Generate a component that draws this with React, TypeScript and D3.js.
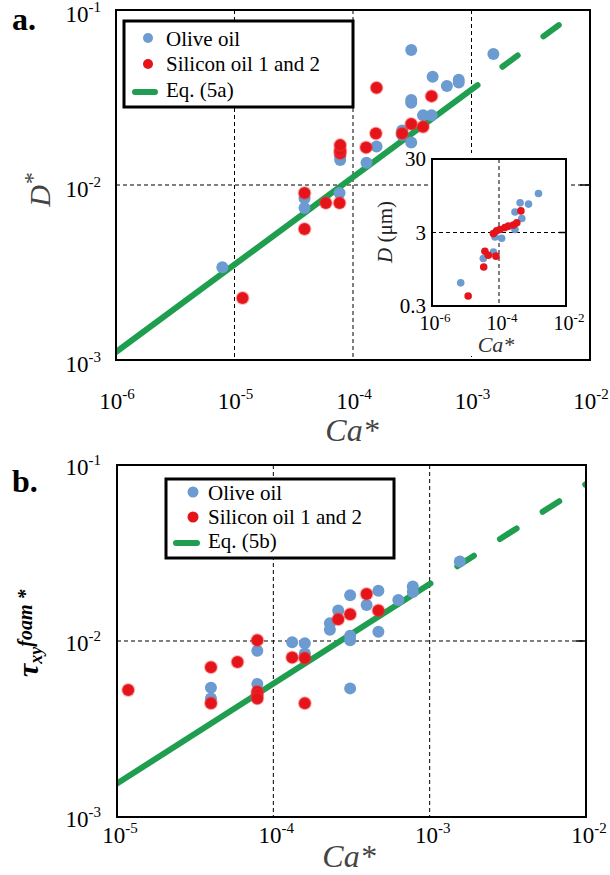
import React from "react";
import * as d3 from "d3";

// ---------- Panel a data (Ca*, D*) ----------
const oliveA_ca = [7.9e-6, 3.9e-5, 3.9e-5, 7.7e-5, 7.8e-5, 7.8e-5, 1.3e-4, 1.58e-4, 2.6e-4, 2.6e-4, 3.1e-4, 3.1e-4, 3.1e-4, 3.1e-4, 3.9e-4, 4.6e-4, 4.7e-4, 6.2e-4, 7.8e-4, 7.8e-4, 1.53e-3];
const oliveA_d = [0.00339, 0.0074, 0.0084, 0.009, 0.0139, 0.0145, 0.0134, 0.0166, 0.0205, 0.0193, 0.0175, 0.0295, 0.0306, 0.059, 0.025, 0.025, 0.0416, 0.0368, 0.040, 0.0385, 0.056];
const siliconA_ca = [1.17e-5, 3.9e-5, 3.9e-5, 5.9e-5, 7.7e-5, 7.8e-5, 7.8e-5, 7.8e-5, 1.29e-4, 1.56e-4, 1.58e-4, 2.6e-4, 3.1e-4, 3.9e-4, 4.6e-4];
const siliconA_d = [0.00226, 0.0056, 0.009, 0.0079, 0.0079, 0.0152, 0.0158, 0.0169, 0.0164, 0.0197, 0.0359, 0.0197, 0.0223, 0.0215, 0.0322];

// ---------- Inset data (Ca*, D in µm) ----------
const oliveI_ca = [1.51e-3, 4.27e-4, 7.6e-4, 3.0e-4, 4.8e-4, 3.0e-4, 1.2e-4, 7.6e-5, 6.8e-5, 3.4e-5, 7.2e-6];
const oliveI_d = [10.2, 7.6, 7.3, 5.7, 4.66, 3.3, 2.5, 2.6, 1.63, 1.33, 0.62];
const siliconI_ca = [4.5e-4, 3.4e-4, 2.7e-4, 1.9e-4, 1.5e-4, 1.07e-4, 8.5e-5, 6.8e-5, 3.8e-5, 4.8e-5, 8.1e-5, 3.5e-5, 1.2e-5];
const siliconI_d = [5.9, 4.06, 3.78, 3.66, 3.5, 3.3, 3.16, 2.9, 1.67, 1.47, 1.43, 1.02, 0.41];

// ---------- Panel b data (Ca*, tau_xy foam*) ----------
const oliveB_ca = [3.99e-5, 3.99e-5, 7.9e-5, 7.9e-5, 1.32e-4, 1.59e-4, 1.59e-4, 2.3e-4, 2.3e-4, 2.6e-4, 3.1e-4, 3.1e-4, 3.1e-4, 3.1e-4, 3.95e-4, 4.7e-4, 4.7e-4, 6.3e-4, 7.8e-4, 7.8e-4, 1.56e-3];
const oliveB_t = [0.00543, 0.00472, 0.0088, 0.0057, 0.00984, 0.0097, 0.0085, 0.0126, 0.0116, 0.0149, 0.0182, 0.0107, 0.0101, 0.00538, 0.016, 0.0193, 0.0113, 0.0171, 0.0204, 0.019, 0.0283];
const siliconB_ca = [1.18e-5, 3.99e-5, 3.99e-5, 5.9e-5, 7.9e-5, 7.9e-5, 7.9e-5, 7.9e-5, 1.32e-4, 1.59e-4, 1.59e-4, 2.6e-4, 3.1e-4, 3.95e-4, 4.7e-4];
const siliconB_t = [0.00527, 0.0071, 0.00443, 0.0076, 0.0101, 0.00515, 0.00493, 0.00472, 0.00807, 0.008, 0.00443, 0.0133, 0.0142, 0.0185, 0.0149];

// ---------- Fitted equations ----------
const eqA = { ref: 1e-6, coef: 1.11e-3, exp: 0.5 };
const eqA_solid = [1e-6, 10 ** -2.949];
const eqA_dashed = [10 ** -2.739, 1e-2];
const eqB = { ref: 1e-5, coef: 1.55e-3, exp: 0.567 };
const eqB_solid = [1e-5, 10 ** -2.995];
const eqB_dashed = [10 ** -2.823, 1e-2];

// ---------- Axis ticks ----------
const xTicksA = [-6, -5, -4, -3, -2];
const yTicksA = [-3, -2, -1];
const xGridA = [-5, -4, -3];
const yGridA = [-2];
const xTicksB = [-5, -4, -3, -2];
const yTicksB = [-3, -2, -1];
const xGridB = [-4, -3];
const yGridB = [-2];
const xTicksI = [-6, -4, -2];
const yTicksI = ["0.3", "3", "30"];

const BLUE = "#6b9bd0";
const RED = "#e5141b";
const GREEN = "#1f9e50";
const SERIF = "'Liberation Serif', 'Times New Roman', serif";

const pow = (e: { ref: number; coef: number; exp: number }, x: number) => e.coef * Math.pow(x / e.ref, e.exp);

function Pow10({ x, y, exp, anchor, size, supSize, supDy }: any) {
  return (
    <text x={x} y={y} textAnchor={anchor} fontSize={size} fontFamily={SERIF} fill="#000">
      <tspan>10</tspan>
      <tspan dy={supDy} fontSize={supSize}>{String(exp)}</tspan>
    </text>
  );
}

function Dots({ xs, ys, sx, sy, color, r, glow }: any) {
  return (
    <g>
      {xs.map((v: number, i: number) => (
        <circle key={i} cx={sx(v)} cy={sy(ys[i])} r={r} fill={color}
          stroke={glow ? "rgba(240,60,60,0.35)" : "none"} strokeWidth={glow ? 2 : 0} />
      ))}
    </g>
  );
}

function FitLine({ eq, solid, dashed, sx, sy, clip, dash }: any) {
  const line = d3.line<number>().x((d) => sx(d)).y((d) => sy(pow(eq, d)));
  return (
    <g clipPath={`url(#${clip})`}>
      <path d={line(solid) || ""} stroke={GREEN} strokeWidth={6} fill="none" strokeLinecap="round" />
      <path d={line(dashed) || ""} stroke={GREEN} strokeWidth={6} fill="none" strokeLinecap="round" strokeDasharray={dash} />
    </g>
  );
}

export default function App() {
  // panel a scales
  const xA = d3.scaleLog().domain([1e-6, 1e-2]).range([116, 590]);
  const yA = d3.scaleLog().domain([1e-3, 1e-1]).range([360, 10]);
  // panel b scales
  const xB = d3.scaleLog().domain([1e-5, 1e-2]).range([117, 586]);
  const yB = d3.scaleLog().domain([1e-3, 1e-1]).range([817, 465]);
  // inset scales
  const xI = d3.scaleLog().domain([1e-6, 1e-2]).range([432, 566]);
  const yI = d3.scaleLog().domain([0.3, 30]).range([306, 159]);

  const grid = { stroke: "#000", strokeWidth: 1, strokeDasharray: "4,3" };

  return (
    <svg width={610} height={875} style={{ position: "absolute", left: 0, top: 0, background: "#fff" }}>
      <defs>
        <clipPath id="clipA"><rect x={116} y={10} width={474} height={350} /></clipPath>
        <clipPath id="clipB"><rect x={117} y={465} width={469} height={352} /></clipPath>
      </defs>
      <rect x={0} y={0} width={610} height={875} fill="#fff" />

      {/* ================= Panel a ================= */}
      <text x={12} y={30} fontSize={32} fontWeight="bold" fontFamily={SERIF}>a.</text>
      {xGridA.map((e) => (
        <line key={e} x1={xA(10 ** e)} x2={xA(10 ** e)} y1={10} y2={360} {...grid} />
      ))}
      {yGridA.map((e) => (
        <line key={e} x1={116} x2={590} y1={yA(10 ** e)} y2={yA(10 ** e)} {...grid} />
      ))}
      {yGridA.map((e) => (
        <line key={"t" + e} x1={580} x2={590} y1={yA(10 ** e)} y2={yA(10 ** e)} stroke="#000" strokeWidth={1.5} />
      ))}
      <FitLine eq={eqA} solid={eqA_solid} dashed={eqA_dashed} sx={xA} sy={yA} clip="clipA" dash="19 32" />
      <Dots xs={oliveA_ca} ys={oliveA_d} sx={xA} sy={yA} color={BLUE} r={6} />
      <Dots xs={siliconA_ca} ys={siliconA_d} sx={xA} sy={yA} color={RED} r={6} glow />
      <rect x={116} y={10} width={474} height={350} fill="none" stroke="#000" strokeWidth={2} />

      {/* inset */}
      <rect x={428} y={153} width={140} height={203} fill="#fff" />
      <line x1={xI(1e-4)} x2={xI(1e-4)} y1={159} y2={306} {...grid} />
      <line x1={432} x2={566} y1={yI(3)} y2={yI(3)} {...grid} />
      <line x1={559} x2={566} y1={yI(3)} y2={yI(3)} stroke="#000" strokeWidth={1.5} />
      <Dots xs={oliveI_ca} ys={oliveI_d} sx={xI} sy={yI} color={BLUE} r={3.8} />
      <Dots xs={siliconI_ca} ys={siliconI_d} sx={xI} sy={yI} color={RED} r={3.8} />
      <rect x={432} y={159} width={134} height={147} fill="none" stroke="#000" strokeWidth={2} />
      {yTicksI.map((t) => (
        <text key={t} x={426} y={yI(+t) + 7} textAnchor="end" fontSize={21} fontFamily={SERIF}>{t}</text>
      ))}
      {xTicksI.map((e) => (
        <Pow10 key={e} x={xI(10 ** e) + 3} y={330} exp={e} anchor="middle" size={20} supSize={13} supDy={-8} />
      ))}
      <text x={496} y={352} textAnchor="middle" fontSize={22} fontStyle="italic" fontFamily={SERIF} fill="#333">Ca*</text>
      <text transform="translate(392,232) rotate(-90)" textAnchor="middle" fontSize={21} fontFamily={SERIF} fill="#222">
        <tspan fontStyle="italic">D</tspan><tspan> (μm)</tspan>
      </text>

      {/* axes labels a */}
      {yTicksA.map((e) => (
        <Pow10 key={e} x={101} y={yA(10 ** e) + 12} exp={e} anchor="end" size={23} supSize={15} supDy={-10} />
      ))}
      {xTicksA.map((e) => (
        <Pow10 key={e} x={xA(10 ** e) + 1} y={409} exp={e} anchor="middle" size={23} supSize={15} supDy={-10} />
      ))}
      <text x={352} y={441} textAnchor="middle" fontSize={32} fontStyle="italic" fontFamily={SERIF} fill="#444">Ca*</text>
      <text transform="translate(50,190) rotate(-90)" textAnchor="middle" fontSize={30} fontStyle="italic" fontFamily={SERIF} fill="#444">
        <tspan>D</tspan><tspan dy={-10} fontSize={24}>*</tspan>
      </text>

      {/* legend a */}
      <rect x={124} y={21} width={229} height={86} fill="#fff" stroke="#000" strokeWidth={3} />
      <circle cx={148} cy={38} r={5} fill={BLUE} />
      <circle cx={148} cy={64} r={5} fill={RED} />
      <line x1={135} x2={155} y1={92} y2={92} stroke={GREEN} strokeWidth={6} strokeLinecap="round" />
      <text x={166} y={46} fontSize={21} fontFamily={SERIF}>Olive oil</text>
      <text x={166} y={71} fontSize={21} fontFamily={SERIF}>Silicon oil 1 and 2</text>
      <text x={166} y={97} fontSize={21} fontFamily={SERIF}>Eq. (5a)</text>

      {/* ================= Panel b ================= */}
      <text x={12} y={492} fontSize={32} fontWeight="bold" fontFamily={SERIF}>b.</text>
      {xGridB.map((e) => (
        <line key={e} x1={xB(10 ** e)} x2={xB(10 ** e)} y1={465} y2={817} {...grid} />
      ))}
      {yGridB.map((e) => (
        <line key={e} x1={117} x2={586} y1={yB(10 ** e)} y2={yB(10 ** e)} {...grid} />
      ))}
      {yGridB.map((e) => (
        <line key={"t" + e} x1={576} x2={586} y1={yB(10 ** e)} y2={yB(10 ** e)} stroke="#000" strokeWidth={1.5} />
      ))}
      <FitLine eq={eqB} solid={eqB_solid} dashed={eqB_dashed} sx={xB} sy={yB} clip="clipB" dash="19.7 30.9" />
      <Dots xs={oliveB_ca} ys={oliveB_t} sx={xB} sy={yB} color={BLUE} r={6} />
      <Dots xs={siliconB_ca} ys={siliconB_t} sx={xB} sy={yB} color={RED} r={6} glow />
      <rect x={117} y={465} width={469} height={352} fill="none" stroke="#000" strokeWidth={2} />

      {yTicksB.map((e) => (
        <Pow10 key={e} x={101} y={yB(10 ** e) + 10} exp={e} anchor="end" size={23} supSize={15} supDy={-10} />
      ))}
      {xTicksB.map((e) => (
        <Pow10 key={e} x={xB(10 ** e) + 3} y={843} exp={e} anchor="middle" size={23} supSize={15} supDy={-10} />
      ))}
      <text x={349} y={867} textAnchor="middle" fontSize={32} fontStyle="italic" fontFamily={SERIF} fill="#444">Ca*</text>
      <text transform="translate(38,677) rotate(-90)" textAnchor="start" fontFamily={SERIF} fontWeight="bold" fontStyle="italic" fill="#000">
        <tspan fontSize={30}>τ</tspan>
        <tspan fontSize={18} dy={4}>xy</tspan>
        <tspan fontSize={20} dy={-10}>foam *</tspan>
      </text>

      {/* legend b */}
      <rect x={166} y={479} width={228} height={79} fill="#fff" stroke="#000" strokeWidth={3} />
      <circle cx={193} cy={492} r={5.5} fill={BLUE} />
      <circle cx={193} cy={517} r={5.5} fill={RED} />
      <line x1={176} x2={197} y1={543} y2={543} stroke={GREEN} strokeWidth={6} strokeLinecap="round" />
      <text x={208} y={500} fontSize={21} fontFamily={SERIF}>Olive oil</text>
      <text x={208} y={524} fontSize={21} fontFamily={SERIF}>Silicon oil 1 and 2</text>
      <text x={208} y={548} fontSize={21} fontFamily={SERIF}>Eq. (5b)</text>
    </svg>
  );
}
